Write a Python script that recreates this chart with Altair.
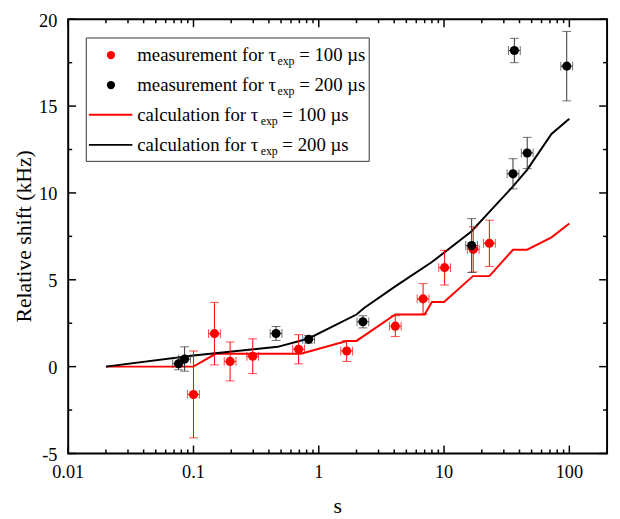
import altair as alt
import pandas as pd

# ---------------- data ----------------
calc100_s = [0.02, 0.1, 0.15, 0.72, 1.67, 2.0, 4.08, 7.0, 8.0, 10.0, 17.0, 23.0, 35.5, 46.0, 72.0, 100.0]
calc100_shift = [0.0, 0.0, 0.74, 0.74, 1.48, 1.48, 3.0, 3.0, 3.72, 3.72, 5.21, 5.21, 6.73, 6.73, 7.44, 8.24]

calc200_s = [0.02, 0.1, 0.47, 0.83, 2.0, 2.3, 4.08, 8.0, 16.5, 35.5, 46.0, 72.0, 100.0]
calc200_shift = [0.0, 0.64, 1.14, 1.62, 3.0, 3.38, 4.62, 6.02, 7.78, 10.38, 11.33, 13.4, 14.27]

meas100_s = [0.1, 0.147, 0.196, 0.297, 0.69, 1.67, 4.08, 6.8, 10.1, 17.1, 23.0]
meas100_shift = [-1.6, 1.9, 0.3, 0.6, 1.0, 0.9, 2.33, 3.9, 5.7, 6.75, 7.1]
meas100_err = [2.5, 1.8, 1.12, 1.0, 0.84, 0.6, 0.6, 0.88, 1.0, 1.3, 1.33]

meas200_s = [0.076, 0.085, 0.456, 0.83, 2.25, 16.6, 35.5, 36.4, 46.1, 95.3]
meas200_shift = [0.17, 0.44, 1.91, 1.57, 2.58, 6.97, 11.1, 18.2, 12.3, 17.3]
meas200_err = [0.35, 0.7, 0.4, 0.22, 0.35, 1.55, 0.87, 0.7, 0.9, 2.0]

s_err_dex = 0.047  # horizontal error half-width, in decades

x_major_ticks = [0.01, 0.1, 1, 10, 100]
x_tick_labels = ["0.01", "0.1", "1", "10", "100"]
x_minor_ticks = [0.02, 0.03, 0.04, 0.05, 0.06, 0.07, 0.08, 0.09,
                 0.2, 0.3, 0.4, 0.5, 0.6, 0.7, 0.8, 0.9,
                 2, 3, 4, 5, 6, 7, 8, 9,
                 20, 30, 40, 50, 60, 70, 80, 90]
y_major_ticks = [-5, 0, 5, 10, 15, 20]
y_tick_labels = ["-5", "0", "5", "10", "15", "20"]
y_minor_ticks = [-2.5, 2.5, 7.5, 12.5, 17.5]

x_title = "s"
y_title = "Relative shift (kHz)"
legend_labels = ["measurement for τ", "measurement for τ", "calculation for τ", "calculation for τ"]
legend_values = ["= 100 µs", "= 200 µs", "= 100 µs", "= 200 µs"]

# ---------------- layout ----------------
W, H = 546, 440
FONT = "Liberation Serif"
RED = "#ff0000"
BLACK = "#000000"

xscale = alt.Scale(type="log", domain=[0.01, 200], nice=False)
yscale = alt.Scale(domain=[-5, 20], nice=False, zero=False)


def meas_frame(s, y, e):
    return pd.DataFrame({
        "s": s, "shift": y,
        "lo": [a - b for a, b in zip(y, e)],
        "hi": [a + b for a, b in zip(y, e)],
        "slo": [v * 10 ** (-s_err_dex) for v in s],
        "shi": [v * 10 ** (s_err_dex) for v in s],
    })


m100 = meas_frame(meas100_s, meas100_shift, meas100_err)
m200 = meas_frame(meas200_s, meas200_shift, meas200_err)
c100 = pd.DataFrame({"s": calc100_s, "shift": calc100_shift})
c200 = pd.DataFrame({"s": calc200_s, "shift": calc200_shift})

X = lambda f: alt.X(f"{f}:Q", scale=xscale, axis=None)
Y = lambda f: alt.Y(f"{f}:Q", scale=yscale, axis=None)

line100 = alt.Chart(c100).mark_line(color=RED, strokeWidth=2).encode(x=X("s"), y=Y("shift"))
line200 = alt.Chart(c200).mark_line(color=BLACK, strokeWidth=2).encode(x=X("s"), y=Y("shift"))


def err_layers(df, color):
    v = alt.Chart(df).mark_rule(color=color, strokeWidth=1).encode(x=X("s"), y=Y("lo"), y2="hi")
    h = alt.Chart(df).mark_rule(color=color, strokeWidth=1).encode(x=X("slo"), x2="shi", y=Y("shift"))
    c1 = alt.Chart(df).mark_tick(color=color, orient="horizontal", size=9, thickness=1).encode(x=X("s"), y=Y("lo"))
    c2 = alt.Chart(df).mark_tick(color=color, orient="horizontal", size=9, thickness=1).encode(x=X("s"), y=Y("hi"))
    c3 = alt.Chart(df).mark_tick(color=color, orient="vertical", size=9, thickness=1).encode(x=X("slo"), y=Y("shift"))
    c4 = alt.Chart(df).mark_tick(color=color, orient="vertical", size=9, thickness=1).encode(x=X("shi"), y=Y("shift"))
    return [v, h, c1, c2, c3, c4]


pts100 = alt.Chart(m100).mark_circle(color=RED, size=85, opacity=1).encode(x=X("s"), y=Y("shift"))
pts200 = alt.Chart(m200).mark_circle(color=BLACK, size=85, opacity=1).encode(x=X("s"), y=Y("shift"))

# ---------------- frame, inward ticks, tick labels, titles ----------------
xmaj = pd.DataFrame({"v": x_major_ticks, "lab": x_tick_labels})
xmin = pd.DataFrame({"v": x_minor_ticks})
ymaj = pd.DataFrame({"v": y_major_ticks, "lab": y_tick_labels})
ymin = pd.DataFrame({"v": y_minor_ticks})
one = pd.DataFrame({"a": [0]})
tk = dict(color=BLACK, strokeWidth=1.5)
guides = [
    alt.Chart(xmaj).mark_rule(**tk).encode(x=X("v"), y=alt.value(H), y2=alt.value(H - 8)),
    alt.Chart(xmin).mark_rule(**tk).encode(x=X("v"), y=alt.value(H), y2=alt.value(H - 4)),
    alt.Chart(xmaj).mark_rule(**tk).encode(x=X("v"), y=alt.value(0), y2=alt.value(8)),
    alt.Chart(xmin).mark_rule(**tk).encode(x=X("v"), y=alt.value(0), y2=alt.value(4)),
    alt.Chart(ymaj).mark_rule(**tk).encode(y=Y("v"), x=alt.value(0), x2=alt.value(8)),
    alt.Chart(ymin).mark_rule(**tk).encode(y=Y("v"), x=alt.value(0), x2=alt.value(4)),
    alt.Chart(ymaj).mark_rule(**tk).encode(y=Y("v"), x=alt.value(W), x2=alt.value(W - 8)),
    alt.Chart(ymin).mark_rule(**tk).encode(y=Y("v"), x=alt.value(W), x2=alt.value(W - 4)),
    alt.Chart(one).mark_rect(fill=None, stroke=BLACK, strokeWidth=2).encode(
        x=alt.value(0), x2=alt.value(W), y=alt.value(0), y2=alt.value(H)),
    alt.Chart(xmaj).mark_text(font=FONT, fontSize=18.5, align="center", baseline="alphabetic", color=BLACK).encode(
        x=X("v"), y=alt.value(H + 24.5), text="lab:N"),
    alt.Chart(ymaj).mark_text(font=FONT, fontSize=18.5, align="right", baseline="alphabetic", dy=7.5, color=BLACK).encode(
        x=alt.value(-11), y=Y("v"), text="lab:N"),
    alt.Chart(one).mark_text(font=FONT, fontSize=22, align="center", baseline="alphabetic", color=BLACK).encode(
        x=alt.value(W / 2), y=alt.value(H + 60.5), text=alt.value(x_title)),
    alt.Chart(one).mark_text(font=FONT, fontSize=22, align="center", baseline="alphabetic", angle=270, color=BLACK).encode(
        x=alt.value(-37.5), y=alt.value(H / 2), text=alt.value(y_title)),
]

# ---------------- legend (drawn by hand because of the subscripts) ----------------
row_y = [36.3, 66.7, 96.7, 127.3]
sub_x = [212, 212, 195, 195]
val_x = [234, 234, 217, 217]
LFS = 19
leg = [
    alt.Chart(one).mark_rect(fill="white", stroke="#333333", strokeWidth=1).encode(
        x=alt.value(18.3), x2=alt.value(305), y=alt.value(19), y2=alt.value(144)),
    alt.Chart(one).mark_circle(color=RED, size=70, opacity=1).encode(x=alt.value(43.3), y=alt.value(row_y[0])),
    alt.Chart(one).mark_circle(color=BLACK, size=70, opacity=1).encode(x=alt.value(43.3), y=alt.value(row_y[1])),
    alt.Chart(one).mark_rule(color=RED, strokeWidth=2).encode(x=alt.value(21), x2=alt.value(65), y=alt.value(row_y[2])),
    alt.Chart(one).mark_rule(color=BLACK, strokeWidth=2).encode(x=alt.value(21), x2=alt.value(65), y=alt.value(row_y[3])),
]
txt = dict(font=FONT, align="left", baseline="alphabetic", color=BLACK)
for i in range(4):
    leg.append(alt.Chart(one).mark_text(fontSize=LFS, **txt).encode(
        x=alt.value(70), y=alt.value(row_y[i] + 6.5), text=alt.value(legend_labels[i])))
    leg.append(alt.Chart(one).mark_text(fontSize=12, **txt).encode(
        x=alt.value(sub_x[i]), y=alt.value(row_y[i] + 10.5), text=alt.value("exp")))
    leg.append(alt.Chart(one).mark_text(fontSize=LFS, **txt).encode(
        x=alt.value(val_x[i]), y=alt.value(row_y[i] + 6.5), text=alt.value(legend_values[i])))

layers = ([line100, line200] + err_layers(m100, RED) + [pts100] + err_layers(m200, "#333333") + [pts200]
          + guides + leg)

chart = alt.layer(*layers).properties(
    width=W, height=H,
    autosize=alt.AutoSizeParams(type="none"),
    padding={"left": 61, "top": 8, "right": 5, "bottom": 63},
    background="white",
).configure_view(stroke=None)

chart.save("out.html", embed_options={"renderer": "svg", "actions": False})
